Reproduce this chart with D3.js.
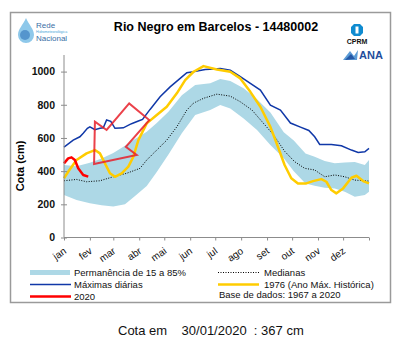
<!DOCTYPE html>
<html>
<head>
<meta charset="utf-8">
<script src="https://cdn.jsdelivr.net/npm/d3@7"></script>
<style>
  body { margin: 0; background: #fff; }
  text { font-family: "Liberation Sans", Arial, sans-serif; }
</style>
</head>
<body>
<div id="wrapper"></div>
<script>
// cota do Rio Negro em Barcelos (cm), por dia do ano
var months = ["jan", "fev", "mar", "abr", "mai", "jun", "jul", "ago", "set", "out", "nov", "dez"];
var monthStart = [0, 31, 59, 90, 120, 151, 181, 212, 243, 273, 304, 334, 365];
var yTicks = [0, 200, 400, 600, 800, 1000];

// permanencia 15 a 85%
var bandDays = [0, 15, 31, 45, 59, 73, 85, 99, 111, 125, 141, 157, 175, 187, 199, 215, 231, 247, 263, 275, 289, 300, 312, 324, 336, 348, 360, 365];
var bandHigh = [437, 429, 450, 476, 509, 553, 593, 637, 690, 758, 858, 919, 929, 955, 944, 899, 833, 753, 635, 585, 507, 487, 461, 447, 452, 455, 437, 467];
var bandLow = [256, 226, 206, 194, 187, 200, 250, 311, 395, 500, 628, 738, 768, 798, 778, 718, 648, 557, 477, 400, 326, 312, 300, 296, 276, 246, 256, 276];

var medDays = [0, 15, 27, 43, 59, 75, 91, 99, 111, 123, 135, 147, 155, 167, 183, 199, 211, 225, 237, 251, 264, 276, 288, 300, 312, 324, 336, 348, 365];
var medVals = [342, 350, 336, 342, 366, 387, 417, 467, 527, 587, 667, 768, 810, 839, 864, 852, 818, 768, 698, 617, 520, 457, 417, 407, 366, 377, 366, 346, 340];

var maxDays = [0, 11, 19, 23, 28, 31, 37, 43, 47, 51, 56, 61, 67, 71, 79, 83, 89, 94, 103, 115, 127, 139, 147, 153, 169, 180, 187, 199, 211, 223, 235, 247, 259, 271, 283, 293, 300, 306, 320, 332, 344, 352, 360, 365];
var maxVals = [545, 587, 607, 628, 658, 667, 650, 658, 661, 708, 700, 658, 660, 661, 682, 690, 702, 712, 772, 848, 908, 959, 993, 998, 1012, 1015, 1019, 1009, 969, 929, 889, 798, 768, 690, 665, 645, 607, 561, 561, 553, 527, 513, 517, 537];

var y1976Days = [0, 5, 15, 27, 37, 43, 49, 55, 61, 69, 77, 83, 89, 99, 111, 123, 135, 145, 155, 167, 183, 199, 211, 223, 235, 247, 256, 264, 272, 280, 290, 298, 308, 314, 320, 326, 334, 344, 350, 358, 365];
var y1976Vals = [357, 396, 467, 507, 527, 507, 447, 387, 366, 387, 427, 487, 587, 688, 738, 788, 869, 949, 999, 1033, 1013, 999, 959, 878, 788, 667, 547, 437, 357, 326, 326, 340, 352, 336, 286, 266, 296, 360, 372, 340, 326];

var y2020Days = [0, 5, 9, 13, 17, 23, 29];
var y2020Vals = [447, 477, 483, 467, 417, 377, 367];

// seta desenhada sobre o grafico (dia, cota)
var arrowDays = [37, 36, 87, 74, 102, 78, 51];
var arrowVals = [698, 443, 497, 547, 708, 808, 648];

var legendItems = [
  { label: "Permanência de 15 a 85%", kind: "band", col: 0, row: 0 },
  { label: "Máximas diárias", kind: "max", col: 0, row: 1 },
  { label: "2020", kind: "y2020", col: 0, row: 2 },
  { label: "Medianas", kind: "med", col: 1, row: 0 },
  { label: "1976 (Ano Máx. Histórica)", kind: "y1976", col: 1, row: 1 }
];

var dimension = {
  width: 402,
  height: 345,
  plotLeft: 64,
  plotRight: 369,
  plotTop: 55,
  plotBottom: 237.5
};

var colors = {
  band: "#add8e6",
  max: "#1038a8",
  med: "#000",
  y1976: "#ffcc00",
  y2020: "#ff0000",
  axis: "#8c8c8c"
};

var svg = d3.select("#wrapper")
  .append("svg")
  .attr("width", dimension.width)
  .attr("height", dimension.height);

// moldura
svg.append("rect")
  .attr("x", 10.5).attr("y", 12.5)
  .attr("width", 380).attr("height", 290)
  .attr("fill", "#fff")
  .attr("stroke", "#9a9a9a")
  .attr("stroke-width", 1.5);

var xScale = d3.scaleLinear()
  .domain([0, 365])
  .range([dimension.plotLeft, dimension.plotRight]);

var yScale = d3.scaleLinear()
  .domain([0, 1100])
  .range([dimension.plotBottom, dimension.plotTop]);

function zipSeries(days, vals) {
  return days.map(function (d, i) { return { day: d, v: vals[i] }; });
}

var bandData = bandDays.map(function (d, i) { return { day: d, lo: bandLow[i], hi: bandHigh[i] }; });

var area = d3.area()
  .x(function (d) { return xScale(d.day); })
  .y0(function (d) { return yScale(d.lo); })
  .y1(function (d) { return yScale(d.hi); });

var line = d3.line()
  .x(function (d) { return xScale(d.day); })
  .y(function (d) { return yScale(d.v); });

var plot = svg.append("g");

plot.append("path")
  .datum(bandData)
  .attr("d", area)
  .attr("fill", colors.band);

plot.append("path")
  .datum(zipSeries(medDays, medVals))
  .attr("d", line)
  .attr("fill", "none")
  .attr("stroke", colors.med)
  .attr("stroke-width", 1)
  .attr("stroke-dasharray", "1,1.5");

plot.append("path")
  .datum(zipSeries(maxDays, maxVals))
  .attr("d", line)
  .attr("fill", "none")
  .attr("stroke", colors.max)
  .attr("stroke-width", 1.5);

plot.append("path")
  .datum(zipSeries(y1976Days, y1976Vals))
  .attr("d", line)
  .attr("fill", "none")
  .attr("stroke", colors.y1976)
  .attr("stroke-width", 2.5)
  .attr("stroke-linejoin", "round");

plot.append("path")
  .datum(zipSeries(y2020Days, y2020Vals))
  .attr("d", line)
  .attr("fill", "none")
  .attr("stroke", colors.y2020)
  .attr("stroke-width", 2.5)
  .attr("stroke-linejoin", "round");

plot.append("path")
  .datum(zipSeries(arrowDays, arrowVals))
  .attr("d", d3.line().x(function (d) { return xScale(d.day); }).y(function (d) { return yScale(d.v); }).curve(d3.curveLinearClosed))
  .attr("fill", "none")
  .attr("stroke", "#e8202a")
  .attr("stroke-opacity", 0.85)
  .attr("stroke-width", 2)
  .attr("stroke-linejoin", "miter");

// eixos
var yAxis = svg.append("g")
  .attr("transform", "translate(" + dimension.plotLeft + ",0)")
  .call(d3.axisLeft(yScale).tickValues(yTicks).tickFormat(d3.format("d")).tickSize(3).tickPadding(6));
yAxis.select(".domain").attr("d", "M0," + dimension.plotTop + "V" + dimension.plotBottom);
yAxis.selectAll(".tick line").attr("x2", 3).attr("x1", -3);
yAxis.selectAll("line, path").attr("stroke", colors.axis);
yAxis.selectAll("text")
  .attr("font-size", 10.5)
  .attr("font-weight", "bold")
  .attr("fill", "#111");

var xAxis = svg.append("g")
  .attr("transform", "translate(0," + dimension.plotBottom + ")")
  .call(d3.axisBottom(xScale).tickValues(monthStart).tickSize(3).tickFormat(""));
xAxis.select(".domain").attr("d", "M" + dimension.plotLeft + ",0H" + dimension.plotRight);
xAxis.selectAll("line, path").attr("stroke", colors.axis);

svg.append("g")
  .selectAll("text")
  .data(months)
  .enter()
  .append("text")
  .attr("transform", function (d, i) {
    return "translate(" + (xScale(monthStart[i]) + 3) + "," + (dimension.plotBottom + 15) + ") rotate(-35)";
  })
  .attr("text-anchor", "end")
  .attr("font-size", 10)
  .attr("fill", "#111")
  .text(function (d) { return d; });

svg.append("text")
  .attr("transform", "translate(24,166) rotate(-90)")
  .attr("text-anchor", "middle")
  .attr("font-size", 11)
  .attr("font-weight", "bold")
  .text("Cota (cm)");

// titulo
svg.append("text")
  .attr("x", 216).attr("y", 31)
  .attr("text-anchor", "middle")
  .attr("font-size", 12.5)
  .attr("font-weight", "bold")
  .text("Rio Negro em Barcelos - 14480002");

// logotipos
var rede = svg.append("g").attr("transform", "translate(17,18)");
rede.append("path")
  .attr("d", "M9,0 C6,7 1,11 1,17 A8,8 0 0 0 17,17 C17,11 12,7 9,0 Z")
  .attr("fill", "#8ec8ea");
rede.append("circle").attr("cx", 8).attr("cy", 17).attr("r", 5).attr("fill", "#3d7fc0").attr("opacity", 0.7);
rede.append("text").attr("x", 19).attr("y", 10).attr("font-size", 8).attr("fill", "#3a6ea5").text("Rede");
rede.append("text").attr("x", 19).attr("y", 15).attr("font-size", 3.6).attr("fill", "#4aa3d8").text("Hidrometeorológica");
rede.append("text").attr("x", 19).attr("y", 23).attr("font-size", 8).attr("fill", "#3a6ea5").text("Nacional");

var cprm = svg.append("g").attr("transform", "translate(357,24)");
cprm.append("path")
  .attr("d", "M-3,0 H3 L6,3 V9 L3,12 H-3 L-6,9 V3 Z M-1.5,2.5 V9.5 H1.5 V2.5 Z")
  .attr("fill", "#0f8bd0")
  .attr("fill-rule", "evenodd");
cprm.append("text").attr("x", 0).attr("y", 20).attr("text-anchor", "middle")
  .attr("font-size", 7).attr("font-weight", "bold").attr("fill", "#111").text("CPRM");

var ana = svg.append("g").attr("transform", "translate(343,49)");
ana.append("path").attr("d", "M0,11 L7,2 L11,7 L15,1 L14,11 Z").attr("fill", "#5b9bd5");
ana.append("path").attr("d", "M2,11 L8,5 L12,10 Z").attr("fill", "#2457a6");
ana.append("text").attr("x", 16).attr("y", 10).attr("font-size", 11).attr("font-weight", "bold")
  .attr("fill", "#1f4e9c").text("ANA");

// legenda
var legendCols = [30, 218];
var legendRows = [272.5, 284.5, 296.5];
var legend = svg.append("g");
legendItems.forEach(function (item) {
  var x0 = legendCols[item.col];
  var y0 = legendRows[item.row];
  if (item.kind === "band") {
    legend.append("rect").attr("x", x0).attr("y", y0 - 2.5).attr("width", 40).attr("height", 5).attr("fill", colors.band);
  } else {
    legend.append("line")
      .attr("x1", x0).attr("x2", x0 + 41)
      .attr("y1", y0).attr("y2", y0)
      .attr("stroke", colors[item.kind])
      .attr("stroke-width", item.kind === "med" ? 1 : (item.kind === "max" ? 1.5 : 2.5))
      .attr("stroke-dasharray", item.kind === "med" ? "1,1.5" : null);
  }
  legend.append("text")
    .attr("x", x0 + 44 + (item.col === 1 ? 2 : 0)).attr("y", y0 + 3.5)
    .attr("font-size", 9.5)
    .attr("fill", "#111")
    .text(item.label);
});
legend.append("text")
  .attr("x", 219).attr("y", 298)
  .attr("font-size", 9.5)
  .attr("fill", "#111")
  .text("Base de dados: 1967 a 2020");

// cota do dia
svg.append("text")
  .attr("x", 118).attr("y", 335)
  .attr("font-size", 13)
  .attr("fill", "#111")
  .attr("xml:space", "preserve")
  .style("white-space", "pre")
  .text("Cota em    30/01/2020  : 367 cm");
</script>
</body>
</html>
